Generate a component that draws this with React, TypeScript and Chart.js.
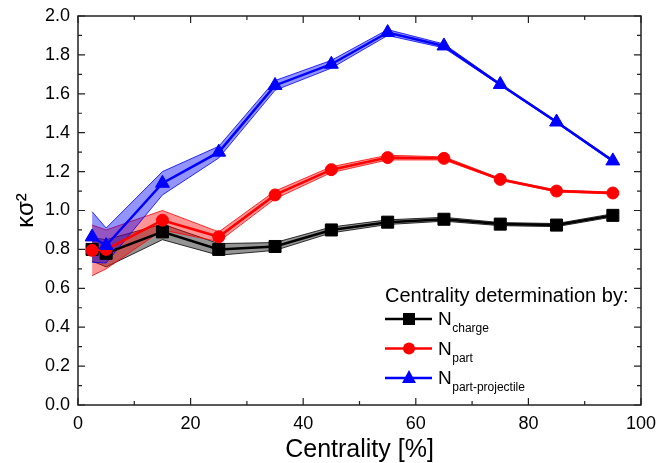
import React, { useEffect, useRef } from "react";
import { Chart, registerables } from "chart.js";
Chart.register(...registerables);

const centrality = [2.5, 5, 15, 25, 35, 45, 55, 65, 75, 85, 95];
const chargeVals = [0.8, 0.78, 0.89, 0.8, 0.815, 0.9, 0.94, 0.955, 0.93, 0.925, 0.975];
const chargeErr = [0.06, 0.07, 0.04, 0.03, 0.02, 0.015, 0.012, 0.01, 0.008, 0.008, 0.008];
const partVals = [0.795, 0.8, 0.95, 0.865, 1.08, 1.21, 1.272, 1.268, 1.16, 1.1, 1.09];
const partErr = [0.13, 0.1, 0.05, 0.025, 0.02, 0.015, 0.012, 0.008, 0.005, 0.005, 0.005];
const projVals = [0.864, 0.82, 1.14, 1.3, 1.643, 1.752, 1.915, 1.846, 1.648, 1.455, 1.255];
const projErr = [0.13, 0.09, 0.06, 0.03, 0.025, 0.02, 0.015, 0.01, 0.005, 0.005, 0.005];
const xTicks = [0, 20, 40, 60, 80, 100];
const xMinor = [10, 30, 50, 70, 90];
const yTicks = [0, 0.2, 0.4, 0.6, 0.8, 1.0, 1.2, 1.4, 1.6, 1.8, 2.0];
const yMinor = [0.1, 0.3, 0.5, 0.7, 0.9, 1.1, 1.3, 1.5, 1.7, 1.9];
const legendTitle = "Centrality determination by:";
const legendSubs = ["charge", "part", "part-projectile"];

const FONT = "'Liberation Sans', Arial, sans-serif";
const colors = ["#000000", "#ff0000", "#0000ff"];
const bandFill = ["rgba(0,0,0,0.42)", "rgba(255,0,0,0.42)", "rgba(0,0,255,0.42)"];
const styles = ["rect", "circle", "triangle"];
const radii = [8.5, 6, 8];

const pts = (vals: number[], err: number[], sign: number) =>
  centrality.map((c, i) => ({ x: c, y: vals[i] + sign * err[i] }));

const zeroPad = (s: any) => {
  s.paddingLeft = 0;
  s.paddingRight = 0;
  s.paddingTop = 0;
  s.paddingBottom = 0;
};

const framePlugin = {
  id: "frame",
  afterDraw(chart: any) {
    const { ctx, chartArea: a, scales } = chart;
    const xs = scales.x, ys = scales.y;
    ctx.save();
    ctx.strokeStyle = "#222";
    ctx.lineWidth = 1.5;
    ctx.strokeRect(a.left, a.top, a.right - a.left, a.bottom - a.top);
    ctx.lineWidth = 1.2;
    const tick = (vals: number[], len: number, horiz: boolean) => {
      vals.forEach((v) => {
        ctx.beginPath();
        if (horiz) {
          const p = xs.getPixelForValue(v);
          ctx.moveTo(p, a.bottom); ctx.lineTo(p, a.bottom - len);
          ctx.moveTo(p, a.top); ctx.lineTo(p, a.top + len);
        } else {
          const p = ys.getPixelForValue(v);
          ctx.moveTo(a.left, p); ctx.lineTo(a.left + len, p);
          ctx.moveTo(a.right, p); ctx.lineTo(a.right - len, p);
        }
        ctx.stroke();
      });
    };
    tick(xTicks, 7, true);
    tick(xMinor, 4, true);
    tick(yTicks, 7, false);
    tick(yMinor, 4, false);

    // legend
    ctx.fillStyle = "#000";
    ctx.font = `20px ${FONT}`;
    ctx.textBaseline = "alphabetic";
    ctx.textAlign = "left";
    ctx.fillText(legendTitle, 385, 302);
    legendSubs.forEach((sub, i) => {
      const y = 319 + i * 29.5;
      ctx.strokeStyle = colors[i];
      ctx.lineWidth = 2.5;
      ctx.beginPath();
      ctx.moveTo(385, y); ctx.lineTo(432, y);
      ctx.stroke();
      ctx.fillStyle = colors[i];
      ctx.beginPath();
      if (i === 0) {
        ctx.rect(403, y - 6, 12, 12);
      } else if (i === 1) {
        ctx.arc(409, y, 6, 0, Math.PI * 2);
      } else {
        ctx.moveTo(409, y - 8);
        ctx.lineTo(416, y + 5);
        ctx.lineTo(402, y + 5);
        ctx.closePath();
      }
      ctx.fill();
      ctx.fillStyle = "#000";
      ctx.font = `19px ${FONT}`;
      ctx.fillText("N", 438, y + 6);
      const w = ctx.measureText("N").width;
      ctx.font = `12px ${FONT}`;
      ctx.fillText(sub, 438 + w + 0.5, y + 13);
    });
    ctx.restore();
  },
};

export default function App() {
  const ref = useRef<HTMLCanvasElement>(null);
  useEffect(() => {
    if (!ref.current) return;
    const series = [
      [chargeVals, chargeErr],
      [partVals, partErr],
      [projVals, projErr],
    ];
    const datasets: any[] = [];
    series.forEach(([v, e], i) => {
      datasets.push({
        data: pts(v, e, 1),
        borderColor: colors[i],
        borderWidth: 0.8,
        backgroundColor: bandFill[i],
        fill: "+1",
        pointRadius: 0,
        order: 5 - i,
      });
      datasets.push({
        data: pts(v, e, -1),
        borderColor: colors[i],
        borderWidth: 0.8,
        fill: false,
        pointRadius: 0,
        order: 5 - i,
      });
    });
    series.forEach(([v], i) => {
      datasets.push({
        data: centrality.map((c, k) => ({ x: c, y: v[k] })),
        borderColor: colors[i],
        backgroundColor: colors[i],
        borderWidth: 2.5,
        fill: false,
        pointStyle: styles[i],
        pointRadius: radii[i],
        pointBorderWidth: 1,
        order: 2 - i,
      });
    });
    const chart = new Chart(ref.current, {
      type: "line",
      data: { datasets },
      plugins: [framePlugin],
      options: {
        animation: false,
        responsive: false,
        layout: { padding: { left: 0, right: 17, top: 16, bottom: 0 } },
        plugins: { legend: { display: false }, tooltip: { enabled: false } },
        elements: { line: { tension: 0 } },
        scales: {
          x: {
            type: "linear",
            min: 0,
            max: 100,
            grid: { display: false, drawTicks: false },
            border: { display: false },
            afterBuildTicks: (s: any) => { s.ticks = xTicks.map((v) => ({ value: v })); },
            afterFit: (s: any) => { s.height = 58; zeroPad(s); },
            ticks: { color: "#000", padding: 8, maxRotation: 0, font: { family: FONT, size: 18 } },
            title: {
              display: true,
              text: "Centrality [%]",
              color: "#000",
              font: { family: FONT, size: 25, lineHeight: 1 },
              padding: { top: 0, bottom: 0 },
            },
          },
          y: {
            type: "linear",
            min: 0,
            max: 2,
            grid: { display: false, drawTicks: false },
            border: { display: false },
            afterBuildTicks: (s: any) => { s.ticks = yTicks.map((v) => ({ value: v })); },
            afterFit: (s: any) => { s.width = 78; zeroPad(s); },
            ticks: {
              color: "#000",
              padding: 8,
              font: { family: FONT, size: 18 },
              callback: (v: any) => Number(v).toFixed(1),
            },
            title: {
              display: true,
              text: "κσ²",
              color: "#000",
              font: { family: FONT, size: 24 },
              padding: { top: 12, bottom: 0 },
            },
          },
        },
      } as any,
    });
    return () => chart.destroy();
  }, []);
  return (
    <div style={{ position: "fixed", left: 0, top: 0, width: 658, height: 463, background: "#fff" }}>
      <canvas ref={ref} width={658} height={463} style={{ display: "block" }} />
    </div>
  );
}
